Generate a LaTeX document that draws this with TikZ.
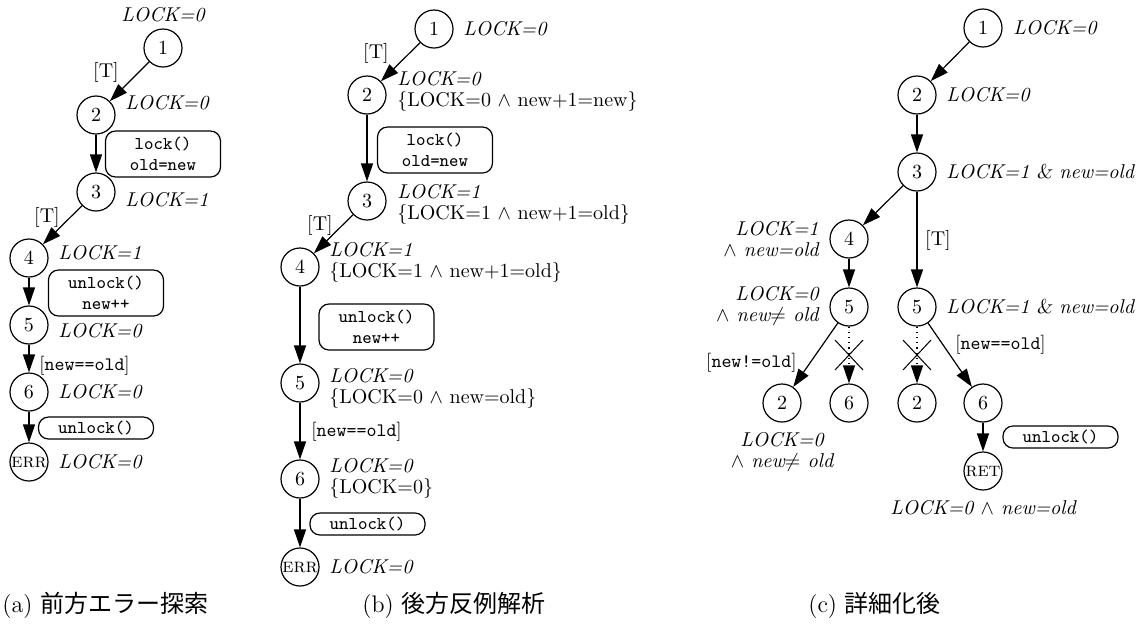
\documentclass[tikz,border=0pt]{standalone}
\usepackage{fontspec}
\newfontfamily\jp{Noto Sans CJK JP}
\usetikzlibrary{arrows.meta}
\begin{document}
\begin{tikzpicture}[x=0.5pt,y=-0.5pt,
  st/.style={circle,draw,line width=0.6pt,minimum size=19pt,inner sep=0pt,font=\fontsize{10}{12}\selectfont},
  arr/.style={-{Triangle[length=9pt,width=6pt]},line width=0.6pt},
  act/.style={draw,rounded corners=5pt,line width=0.6pt,align=center,inner xsep=2pt,inner ysep=1pt,
    minimum width=57.5pt,font=\ttfamily\fontsize{9}{10.5}\selectfont},
  act2/.style={act,minimum height=23pt},
  act1/.style={act,minimum height=11pt},
  lab/.style={inner sep=0pt,font=\itshape\fontsize{10}{10.5}\selectfont},
  labw/.style={lab,anchor=west},
  labb/.style={inner sep=0pt,anchor=west,align=left,font=\fontsize{10}{10.5}\selectfont},
  cnd/.style={inner sep=0pt,font=\fontsize{10}{12}\selectfont},
  grd/.style={inner sep=0pt,font=\fontsize{9.5}{11}\selectfont},
  captxt/.style={inner sep=0pt,anchor=west,font=\fontsize{12}{14}\selectfont},
  xmark/.style={line width=0.5pt}]
\useasboundingbox (0,0) rectangle (1139,629);

% ---------------- (a) ----------------
\node[st] (a1) at (163,48) {1};
\node[st] (a2) at (96,115) {2};
\node[st] (a3) at (96,192) {3};
\node[st] (a4) at (29,258) {4};
\node[st] (a5) at (29,325) {5};
\node[st] (a6) at (29,392) {6};
\node[st] (aE) at (29,462) {\makebox[0pt]{\textsc{err}}};
\node[lab] (a1l) at (163,15) {LOCK=0};
\node[labw] (a2l) at (125,103) {LOCK=0};
\node[labw] (a3l) at (125,200) {LOCK=1};
\node[labw] (a4l) at (58,253) {LOCK=1};
\node[labw] (a5l) at (58,331) {LOCK=0};
\node[labw] (a6l) at (58,392) {LOCK=0};
\node[labw] (aEl) at (58,462) {LOCK=0};
\node[act2] (aB1) at (163,154) {lock()\\old=new};
\node[act2] (aB2) at (106,293) {unlock()\\new++};
\node[act1] (aB3) at (96,428) {unlock()};
\draw[arr] (a1) -- (a2);
\draw[arr] (a2) -- (a3);
\draw[arr] (a3) -- (a4);
\draw[arr] (a4) -- (a5);
\draw[arr] (a5) -- (a6);
\draw[arr] (a6) -- (aE);
\node[cnd] (aT1) at (106,72) {[T]};
\node[cnd] (aT2) at (47,217) {[T]};
\node[grd,anchor=west] (aG) at (39,366) {[\texttt{new==old}]};

% ---------------- (b) ----------------
\node[st] (b1) at (434,29) {1};
\node[st] (b2) at (367,95) {2};
\node[st] (b3) at (367,201) {3};
\node[st] (b4) at (300,267) {4};
\node[st] (b5) at (300,383) {5};
\node[st] (b6) at (300,479) {6};
\node[st] (bE) at (300,567) {\makebox[0pt]{\textsc{err}}};
\node[labw] (b1l) at (463,29) {LOCK=0};
\node[labb] (b2l) at (397,91) {\textit{LOCK=0}\\\{LOCK=0 $\wedge$ new+1=new\}};
\node[labb] (b3l) at (397,204) {\textit{LOCK=1}\\\{LOCK=1 $\wedge$ new+1=old\}};
\node[labb] (b4l) at (329,262) {\textit{LOCK=1}\\\{LOCK=1 $\wedge$ new+1=old\}};
\node[labb] (b5l) at (329,388) {\textit{LOCK=0}\\\{LOCK=0 $\wedge$ new=old\}};
\node[labb] (b6l) at (329,478) {\textit{LOCK=0}\\\{LOCK=0\}};
\node[labw] (bEl) at (329,567) {LOCK=0};
\node[act2] (bB1) at (435,150) {lock()\\old=new};
\node[act2] (bB2) at (376.5,327) {unlock()\\new++};
\node[act1] (bB3) at (367.5,524) {unlock()};
\draw[arr] (b1) -- (b2);
\draw[arr] (b2) -- (b3);
\draw[arr] (b3) -- (b4);
\draw[arr] (b4) -- (b5);
\draw[arr] (b5) -- (b6);
\draw[arr] (b6) -- (bE);
\node[cnd] (bT1) at (376,53) {[T]};
\node[cnd] (bT2) at (320,225) {[T]};
\node[grd,anchor=west] (bG) at (311,432) {[\texttt{new==old}]};

% ---------------- (c) ----------------
\node[st] (c1) at (983,28) {1};
\node[st] (c2) at (917,95) {2};
\node[st] (c3) at (917,172) {3};
\node[st] (c4) at (849,239) {4};
\node[st] (c5a) at (849,307) {5};
\node[st] (c5b) at (917,307) {5};
\node[st] (c2a) at (782,403) {2};
\node[st] (c6a) at (849,403) {6};
\node[st] (c2b) at (917,403) {2};
\node[st] (c6b) at (983,403) {6};
\node[st] (cR) at (983,471) {\makebox[0pt]{\textsc{ret}}};
\node[labw] (c1l) at (1013,28) {LOCK=0};
\node[labw] (c2l) at (946,95) {LOCK=0};
\node[labw] (c3l) at (946,172) {LOCK=1 \textsl{\&} new=old};
\node[lab,anchor=east,align=right] (c4l) at (819,239) {LOCK=1\\$\wedge$ new=old};
\node[lab,anchor=east,align=right] (c5al) at (819,306) {LOCK=0\\$\wedge$ new$\neq$ old};
\node[labw] (c5bl) at (946,307) {LOCK=1 \textsl{\&} new=old};
\node[lab,align=center] (c2al) at (782,452) {LOCK=0\\$\wedge$ new$\neq$ old};
\node[lab] (cRl) at (983,508) {LOCK=0 $\wedge$ new=old};
\node[act1] (cB) at (1060.5,437) {unlock()};
\draw[arr] (c1) -- (c2);
\draw[arr] (c2) -- (c3);
\draw[arr] (c3) -- (c4);
\draw[arr] (c3) -- (c5b);
\draw[arr] (c4) -- (c5a);
\draw[arr] (c5a) -- (c2a);
\draw[arr,dotted] (c5a) -- (c6a);
\draw[arr,dotted] (c5b) -- (c2b);
\draw[arr] (c5b) -- (c6b);
\draw[arr] (c6b) -- (cR);
\node[cnd] (cT) at (938,240) {[T]};
\node[grd,anchor=east] (cG1) at (797,363) {[\texttt{new!=old}]};
\node[grd,anchor=west] (cG2) at (955,345) {[\texttt{new==old}]};
\draw[xmark] (835,340) -- (863,370) (835,370) -- (863,340);
\draw[xmark] (903,340) -- (931,370) (903,370) -- (931,340);

% ---------------- captions ----------------
\node[captxt] (capa) at (2,605) {(a) {\jp 前方エラー探索}};
\node[captxt] (capb) at (362,605) {(b) {\jp 後方反例解析}};
\node[captxt] (capc) at (808,605) {(c) {\jp 詳細化後}};
\end{tikzpicture}
\end{document}
